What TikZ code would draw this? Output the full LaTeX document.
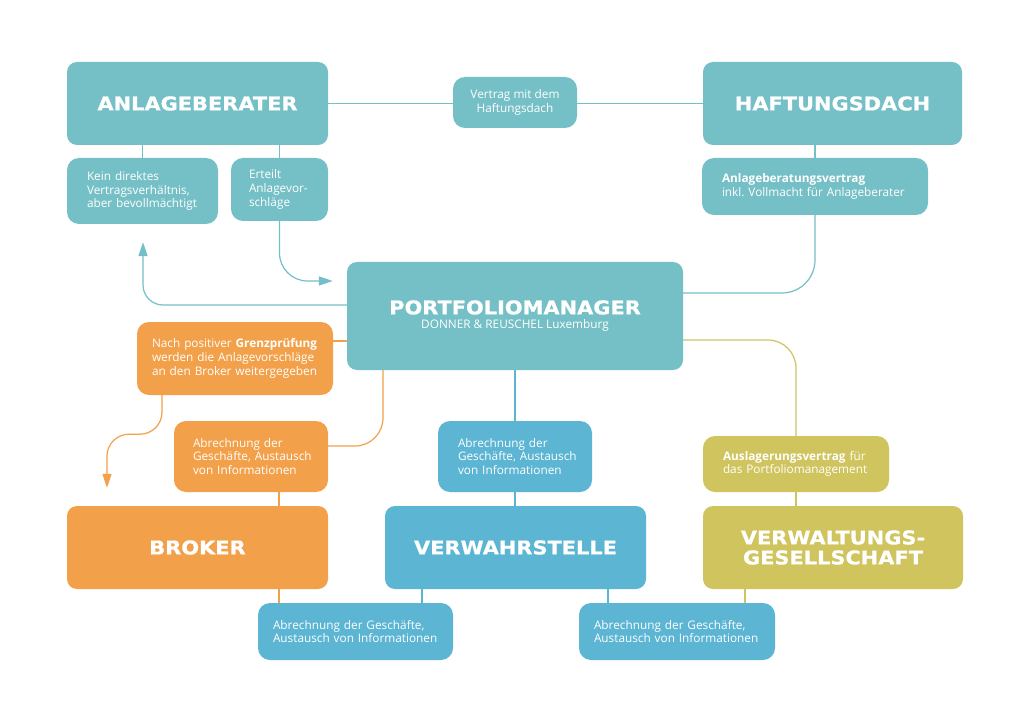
\documentclass[tikz,border=0pt]{standalone}
\usepackage{fontspec}
\setmainfont{Open Sans}
\newfontfamily\titlefont[FakeStretch=1.1,FakeBold=0.8]{DejaVu Sans}
\usetikzlibrary{arrows.meta,backgrounds,calc}
\definecolor{cteal}{HTML}{75C0C6}
\definecolor{cblue}{HTML}{5BB5D3}
\definecolor{corange}{HTML}{F2A14A}
\definecolor{cyellow}{HTML}{CFC45E}
\frenchspacing
\begin{document}
\begin{tikzpicture}[x=1pt,y=-1pt,
 big/.style={rounded corners=10pt, text=white, font=\titlefont\bfseries\fontsize{19}{20}\selectfont, align=center, inner sep=0pt},
 small/.style={rounded corners=12pt, text=white, font=\fontsize{11.8}{13.6}\selectfont, align=left, inner ysep=0pt},
 conn/.style={line width=1.2pt},
 arr/.style={conn, -{Triangle[length=14pt,width=9pt]}},
]
\useasboundingbox (0,0) rectangle (1030,719);

\node[big, fill=cteal, minimum width=261pt, minimum height=83pt] (anl) at (197.5,103.5) {ANLAGEBERATER};
\node[big, fill=cteal, minimum width=259pt, minimum height=83pt] (haft) at (832.5,103.5) {HAFTUNGSDACH};
\node[small, fill=cteal, align=center, minimum width=124pt, minimum height=51pt] (vert) at (515,102.5) {Vertrag mit dem\\Haftungsdach};
\node[small, fill=cteal, minimum width=151pt, minimum height=66pt, text width=111pt, inner xsep=20pt] (kein) at (142.5,191) {\mbox{Kein direktes}\\\mbox{Vertragsverhältnis,}\\\mbox{aber bevollmächtigt}};
\node[small, fill=cteal, minimum width=97pt, minimum height=63pt, text width=61pt, inner xsep=18pt] (ert) at (279.5,189.5) {\mbox{Erteilt}\\\mbox{Anlagevor-}\\\mbox{schläge}};
\node[small, fill=cteal, minimum width=226pt, minimum height=57pt, text width=186pt, inner xsep=20pt] (abv) at (815,186.5) {\mbox{\textbf{Anlageberatungsvertrag}}\\\mbox{inkl.\ Vollmacht für Anlageberater}};
\node[big, fill=cteal, minimum width=336pt, minimum height=108pt, font=\fontsize{11.8}{14.5}\selectfont] (pm) at (515,316) {{\titlefont\bfseries\fontsize{19}{14.5}\selectfont PORTFOLIOMANAGER}\\DONNER \& REUSCHEL Luxemburg};
\node[small, fill=corange, minimum width=196pt, minimum height=73pt, text width=166pt, inner xsep=15pt] (nach) at (235,358.5) {\mbox{Nach positiver \textbf{Grenzprüfung}}\\\mbox{werden die Anlagevorschläge}\\\mbox{an den Broker weitergegeben}};
\node[small, fill=corange, minimum width=154pt, minimum height=71pt, text width=116pt, inner xsep=19pt] (abro) at (251,456.5) {\mbox{Abrechnung der}\\\mbox{Geschäfte, Austausch}\\\mbox{von Informationen}};
\node[small, fill=cblue, minimum width=154pt, minimum height=71pt, text width=114pt, inner xsep=20pt] (abrb) at (515,456.5) {\mbox{Abrechnung der}\\\mbox{Geschäfte, Austausch}\\\mbox{von Informationen}};
\node[small, fill=cyellow, minimum width=186pt, minimum height=56pt, text width=146pt, inner xsep=20pt] (ausl) at (796,464) {\mbox{\textbf{Auslagerungsvertrag} für}\\\mbox{das Portfoliomanagement}};
\node[big, fill=corange, minimum width=261pt, minimum height=83pt] (broker) at (197.5,547.5) {BROKER};
\node[big, fill=cblue, minimum width=261pt, minimum height=83pt] (verw) at (515.5,547.5) {VERWAHRSTELLE};
\node[big, fill=cyellow, minimum width=260pt, minimum height=83pt] (vg) at (833,547.5) {VERWALTUNGS-\\GESELLSCHAFT};
\node[small, fill=cblue, minimum width=195pt, minimum height=57pt, text width=165pt, inner xsep=15pt] (abrl) at (355.5,631.5) {\mbox{Abrechnung der Geschäfte,}\\\mbox{Austausch von Informationen}};
\node[small, fill=cblue, minimum width=196pt, minimum height=57pt, text width=166pt, inner xsep=15pt] (abrr) at (677,631.5) {\mbox{Abrechnung der Geschäfte,}\\\mbox{Austausch von Informationen}};

\begin{scope}[on background layer]
\fill[white] (0,0) rectangle (1030,719);
\draw[conn, cteal] (anl.east) -- (haft.west);
\draw[conn, cteal] (kein.north) -- (kein.north |- anl.south);
\draw[conn, cteal] (ert.north) -- (ert.north |- anl.south);
\coordinate (e1) at ([xshift=-14pt,yshift=35pt]pm.west);
\draw[arr, cteal, rounded corners=28pt] (ert.south) |- (e1);
\coordinate (k1) at ([yshift=11pt]pm.west);
\coordinate (k2) at ([xshift=0.5pt,yshift=-18pt]kein.south);
\draw[arr, cteal, rounded corners=20pt] (k1) -| (k2);
\draw[conn, cteal] (abv.north) -- (abv.north |- haft.south);
\coordinate (h1) at ([yshift=23pt]pm.east);
\draw[conn, cteal, rounded corners=33pt] (abv.south) |- (h1);
\coordinate (n1) at ([yshift=17.5pt]nach.east);
\draw[conn, corange] (n1) -- (n1 -| pm.west);
\coordinate (n2) at ([xshift=-73pt]nach.south);
\coordinate (n3) at ([xshift=-90.5pt,yshift=18pt]broker.north);
\draw[arr, corange, rounded corners=22pt] (n2) -- ++(0,39) -| (n3);
\coordinate (o1) at ([yshift=10.5pt]abro.east);
\coordinate (o2) at ([xshift=-132pt]pm.south);
\draw[conn, corange, rounded corners=28pt] (o1) -| (o2);
\coordinate (o3) at ([xshift=28pt]abro.south);
\draw[conn, corange] (o3) -- (o3 |- broker.north);
\coordinate (o4) at ([xshift=81.5pt]broker.south);
\draw[conn, corange] (o4) -- (o4 |- abrl.north);
\draw[conn, cblue] (pm.south) -- (abrb.north);
\draw[conn, cblue] (abrb.south) -- (abrb.south |- verw.north);
\coordinate (v1) at ([xshift=-93.5pt]verw.south);
\draw[conn, cblue] (v1) -- (v1 |- abrl.north);
\coordinate (v2) at ([xshift=92.5pt]verw.south);
\draw[conn, cblue] (v2) -- (v2 |- abrr.north);
\coordinate (y1) at ([yshift=-24pt]pm.east);
\draw[conn, cyellow, rounded corners=28pt] (y1) -| (ausl.north);
\draw[conn, cyellow] (ausl.south) -- (ausl.south |- vg.north);
\coordinate (y2) at ([xshift=-88pt]vg.south);
\draw[conn, cyellow] (y2) -- (y2 |- abrr.north);
\end{scope}
\end{tikzpicture}
\end{document}
